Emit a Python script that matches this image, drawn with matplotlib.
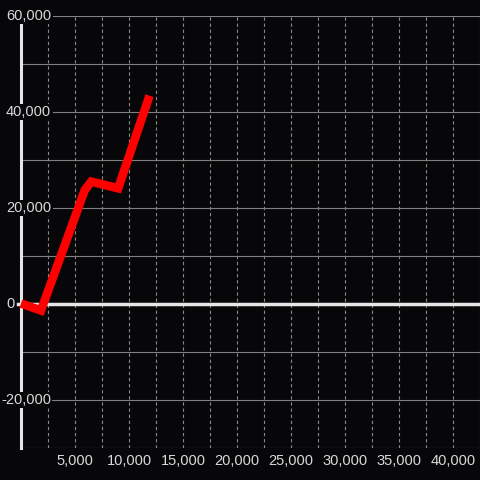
import matplotlib
matplotlib.use("Agg")
import matplotlib.pyplot as plt
from matplotlib.ticker import MultipleLocator
import matplotlib.transforms as mtransforms

# data
x_vals = [0, 1850, 5900, 6500, 9000, 11900]
y_vals = [100, -1350, 23700, 25500, 24100, 43400]

x_tick_vals = [5000, 10000, 15000, 20000, 25000, 30000, 35000, 40000]
y_label_vals = [60000, 40000, 20000, 0, -20000]

bg = "#070709"
txt = "#d9d9d9"

plt.rcParams['font.family'] = ['Liberation Sans', 'DejaVu Sans']

fig = plt.figure(figsize=(4.8, 4.8), dpi=100, facecolor=bg)
ax = fig.add_axes([21 / 480, 32 / 480, 459 / 480, 432 / 480])
ax.set_facecolor(bg)

ax.set_xlim(0, 42500)
ax.set_ylim(-30000, 60000)

for s in ax.spines.values():
    s.set_visible(False)

# grid
ax.yaxis.set_major_locator(MultipleLocator(10000))
ax.set_xticks(x_tick_vals)
ax.set_xticklabels([f"{v:,}" for v in x_tick_vals])
ax.xaxis.set_minor_locator(MultipleLocator(2500))
ax.grid(axis='y', color='#808080', lw=0.8, zorder=1)
ax.grid(axis='x', which='both', color='#888888', lw=0.8, linestyle=(0, (3, 2.5)), zorder=1)
ax.set_axisbelow(True)

ax.tick_params(axis='both', which='both', length=0)
ax.tick_params(axis='x', colors=txt, labelsize=10.5, pad=4.5)
ax.set_yticklabels([])

# axis lines
ax.axvline(0, color='#e6e6e6', lw=2.2, zorder=3, clip_on=False)
ax.axhline(0, color='#e6e6e6', lw=2.5, xmin=-0.007, zorder=3, clip_on=False)

# the series
ax.plot(x_vals, y_vals, color='#ff0000', lw=6.2, solid_capstyle='butt',
        solid_joinstyle='miter', zorder=4, clip_on=False)

# y labels with background boxes covering the axis line
trans = ax.get_yaxis_transform()
for v in y_label_vals:
    off = -5 if v < 0 else 0
    t = mtransforms.offset_copy(trans, fig=fig, x=(-15 + off) * 72 / 100, y=0, units='points')
    ax.text(0, v, f"{v:,}", transform=t, ha='left', va='center', color=txt,
            fontsize=10.5, zorder=6,
            bbox=dict(boxstyle='square,pad=0.1', facecolor=bg, edgecolor='none'))

fig.savefig("out.png", dpi=100, facecolor=bg)
